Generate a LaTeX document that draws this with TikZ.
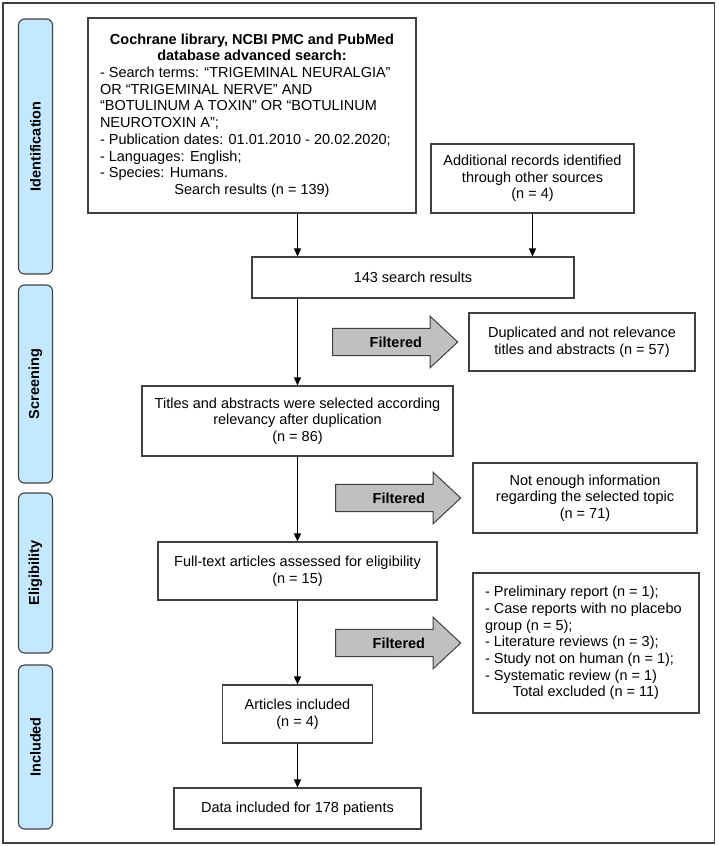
\documentclass[tikz,border=0pt]{standalone}
\usepackage{fontspec}
\setmainfont{Liberation Sans}
\usetikzlibrary{arrows.meta,positioning,shapes.arrows}
\definecolor{prline}{HTML}{404040}
\definecolor{prblue}{HTML}{C4E8FF}
\definecolor{prgray}{HTML}{C0C0C0}

\begin{document}
\begin{tikzpicture}[
    x=1pt, y=-1pt,
    every node/.style={font=\fontsize{14.5}{16.7}\selectfont},
    box/.style={rectangle, draw=prline, fill=white, line width=1.1pt,
                align=center, inner sep=0pt},
    phase/.style={rectangle, draw=prline, fill=prblue, rounded corners=6pt,
                  line width=1.1pt, rotate=90, minimum height=34pt, inner sep=0pt,
                  font=\fontsize{14.5}{16.7}\selectfont\bfseries},
    filt/.style={single arrow, draw=prline, fill=prgray, line width=1pt,
                 single arrow head extend=12pt, single arrow tip angle=86,
                 inner xsep=6pt, inner ysep=7.8pt, minimum height=125pt,
                 font=\fontsize{14.5}{16.7}\selectfont\bfseries},
    arr/.style={-{Triangle[length=8pt, width=7pt]}, line width=1.1pt, black}
]
\useasboundingbox (0,0) rectangle (718,846);
\draw[prline, line width=1.6pt] (3,3) rectangle (714.5,843);

% phases
\node[phase, minimum width=255pt] (ident) at (35.5,146.5) {Identification};
\node[phase, minimum width=198pt] (screen) at (35.5,384) {Screening};
\node[phase, minimum width=160pt] (elig) at (35.5,573) {Eligibility};
\node[phase, minimum width=164pt] (incl) at (35.5,747) {Included};

% main flow
\node[box, minimum width=328pt, minimum height=195pt] (search) at (252,115.5) {%
  \begin{minipage}{304pt}
  \makebox[\linewidth][c]{\bfseries Cochrane library, NCBI PMC and PubMed}\\
  \makebox[\linewidth][c]{\bfseries database advanced search:}\\
  - Search terms: “TRIGEMINAL NEURALGIA”\\
  OR “TRIGEMINAL NERVE” AND\\
  “BOTULINUM A TOXIN” OR “BOTULINUM\\
  NEUROTOXIN A”;\\
  - Publication dates: 01.01.2010 - 20.02.2020;\\
  - Languages: English;\\
  - Species: Humans.\\
  \makebox[\linewidth][c]{Search results (n = 139)}
  \end{minipage}};
\node[box, minimum width=203pt, minimum height=69pt] (other) at (532.5,178.5)
  {Additional records identified\\through other sources\\(n = 4)};
\node[box, minimum width=322pt, minimum height=41pt] (merged) at (413,277.5)
  {143 search results};
\node[box, minimum width=311pt, minimum height=70pt] (screened) at (297.5,421)
  {Titles and abstracts were selected according\\relevancy after duplication\\(n = 86)};
\node[box, minimum width=279pt, minimum height=58pt] (fulltext) at (297.5,571)
  {Full-text articles assessed for eligibility\\(n = 15)};
\node[box, minimum width=150pt, minimum height=58pt] (included) at (297.5,714)
  {Articles included\\(n = 4)};
\node[box, minimum width=247pt, minimum height=41pt] (data) at (297.5,808.5)
  {Data included for 178 patients};

% excluded records
\node[box, minimum width=226pt, minimum height=58pt] (dupl) at (582,342)
  {Duplicated and not relevance\\titles and abstracts (n = 57)};
\node[box, minimum width=224pt, minimum height=70pt] (noinfo) at (585,498)
  {Not enough information\\regarding the selected topic\\(n = 71)};
\node[box, minimum width=226pt, minimum height=140pt] (excl) at (586,643) {%
  \begin{minipage}{202pt}
  - Preliminary report (n = 1);\\
  - Case reports with no placebo\\
  group (n = 5);\\
  - Literature reviews (n = 3);\\
  - Study not on human (n = 1);\\
  - Systematic review (n = 1)\\
  \makebox[\linewidth][c]{Total excluded (n = 11)}
  \end{minipage}};

\node[filt, left=10pt of dupl] (filt1) {\hspace*{16pt}Filtered};
\node[filt, left=11pt of noinfo] (filt2) {\hspace*{16pt}Filtered};
\node[filt, left=11pt of excl] (filt3) {\hspace*{16pt}Filtered};

\draw[arr] (screened |- search.south) -- (screened |- merged.north);
\draw[arr] (other.south) -- (other.south |- merged.north);
\draw[arr] (screened |- merged.south) -- (screened.north);
\draw[arr] (screened) -- (fulltext);
\draw[arr] (fulltext) -- (included);
\draw[arr] (included) -- (data);
\end{tikzpicture}
\end{document}
